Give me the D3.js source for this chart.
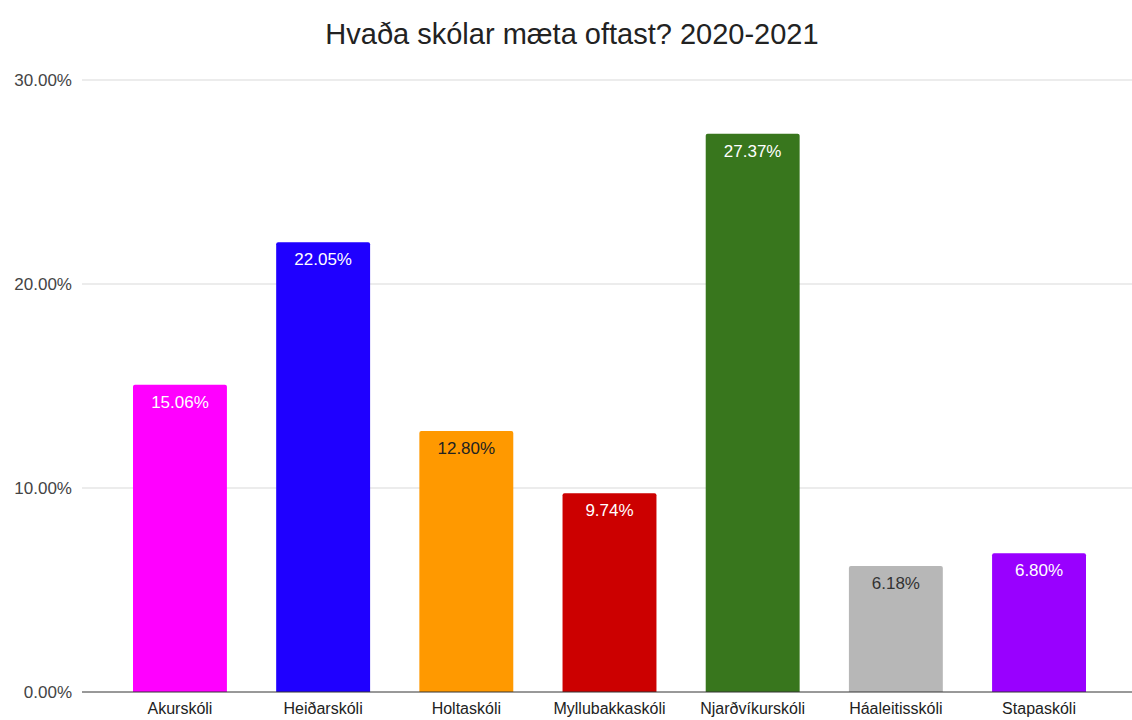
<!DOCTYPE html>
<html>
<head>
<meta charset="utf-8">
<script src="https://cdn.jsdelivr.net/npm/d3@7"></script>
<style>
  body { margin: 0; background: #fff; }
  svg { display: block; font-family: "Liberation Sans", Arial, sans-serif; }
</style>
</head>
<body>
<div id="chart"></div>
<script>
// chart data
const schools = ["Akurskóli", "Heiðarskóli", "Holtaskóli", "Myllubakkaskóli", "Njarðvíkurskóli", "Háaleitisskóli", "Stapaskóli"];
const shares = [15.06, 22.05, 12.80, 9.74, 27.37, 6.18, 6.80];
const barColors = ["#ff00ff", "#1f00ff", "#ff9900", "#cc0000", "#38761d", "#b7b7b7", "#9900ff"];
const labelColors = ["#ffffff", "#ffffff", "#222222", "#ffffff", "#ffffff", "#333333", "#ffffff"];
const yTicks = [0, 10, 20, 30];
const title = "Hvaða skólar mæta oftast? 2020-2021";

const width = 1132, height = 720;

const svg = d3.select("#chart")
    .append("svg")
    .attr("width", width)
    .attr("height", height);

const x = d3.scaleBand()
    .domain(schools)
    .range([133, 1086])
    .paddingInner(0.344)
    .paddingOuter(0);

const y = d3.scaleLinear()
    .domain([0, 30])
    .range([692, 80]);

// title
svg.append("text")
    .attr("x", 572)
    .attr("y", 44)
    .attr("text-anchor", "middle")
    .attr("font-size", 29)
    .attr("fill", "#222")
    .text(title);

// gridlines
svg.append("g")
    .selectAll("line")
    .data(yTicks.filter(d => d > 0))
    .enter().append("line")
    .attr("x1", 82)
    .attr("x2", 1132)
    .attr("y1", d => y(d))
    .attr("y2", d => y(d))
    .attr("stroke", "#d9d9d9")
    .attr("stroke-width", 1);

// y tick labels
svg.append("g")
    .selectAll("text")
    .data(yTicks)
    .enter().append("text")
    .attr("x", 72)
    .attr("y", d => y(d))
    .attr("dy", "0.35em")
    .attr("text-anchor", "end")
    .attr("font-size", 17)
    .attr("fill", "#444")
    .text(d => d.toFixed(2) + "%");

// bars
const rows = schools.map((s, i) => ({ name: s, value: shares[i], color: barColors[i], labelColor: labelColors[i] }));

svg.append("g")
    .selectAll("path")
    .data(rows)
    .enter().append("path")
    .attr("fill", d => d.color)
    .attr("d", d => {
        const x0 = x(d.name), w = x.bandwidth(), top = y(d.value), bottom = y(0), r = 2;
        return `M${x0},${bottom}V${top + r}Q${x0},${top} ${x0 + r},${top}H${x0 + w - r}Q${x0 + w},${top} ${x0 + w},${top + r}V${bottom}Z`;
    });

// value labels
svg.append("g")
    .selectAll("text")
    .data(rows)
    .enter().append("text")
    .attr("x", d => x(d.name) + x.bandwidth() / 2)
    .attr("y", d => y(d.value) + 23)
    .attr("text-anchor", "middle")
    .attr("font-size", 17)
    .attr("fill", d => d.labelColor)
    .text(d => d.value.toFixed(2) + "%");

// baseline
svg.append("line")
    .attr("x1", 82)
    .attr("x2", 1132)
    .attr("y1", y(0))
    .attr("y2", y(0))
    .attr("stroke", "#333")
    .attr("stroke-width", 1);

// x labels
svg.append("g")
    .selectAll("text")
    .data(schools)
    .enter().append("text")
    .attr("x", d => x(d) + x.bandwidth() / 2)
    .attr("y", 714)
    .attr("text-anchor", "middle")
    .attr("font-size", 16)
    .attr("fill", "#222")
    .text(d => d);
</script>
</body>
</html>
